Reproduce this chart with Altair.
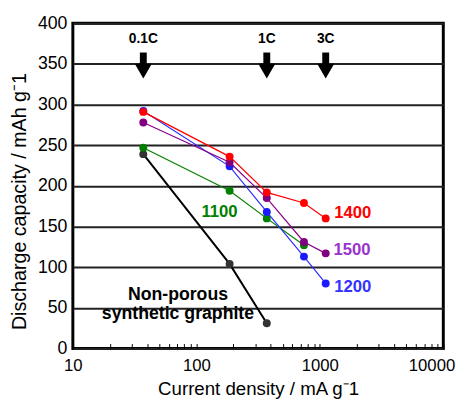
import altair as alt
import pandas as pd

# ---- data ----
rates = [37.2, 186, 372, 744, 1116]          # current density, mA g-1
cap_1400 = [291, 236, 192, 179, 160]
cap_1500 = [278, 229, 185, 131, 117]
cap_1200 = [292, 224, 168, 113, 80]
cap_1100 = [247, 194, 160, 127]
cap_graphite = [239, 104, 31]

series_names = ["graphite", "1100", "1200", "1500", "1400"]
series_caps = [cap_graphite, cap_1100, cap_1200, cap_1500, cap_1400]
line_colors = ["#000000", "#008000", "#2b2bff", "#8b008b", "#ff0000"]
point_colors = ["#333333", "#008000", "#1a1aff", "#800080", "#ff0000"]
line_widths = [2.0, 1.2, 1.2, 1.2, 1.2]

label_texts = ["1400", "1500", "1200", "1100"]
label_x = [1306, 1290, 1306, 110]
label_y = [167, 121, 75, 168]
label_colors = ["#ff0000", "#9933cc", "#3333ff", "#008000"]

graphite_lines = ["Non-porous", "synthetic graphite"]
graphite_x = [71, 71]
graphite_y = [66, 42]

arrow_rates = [37.2, 372, 1116]
arrow_labels = ["0.1C", "1C", "3C"]

x_tick_values = [10, 20, 30, 40, 50, 60, 70, 80, 90,
                 100, 200, 300, 400, 500, 600, 700, 800, 900,
                 1000, 2000, 3000, 4000, 5000, 6000, 7000, 8000, 9000, 10000]
y_tick_values = [0, 50, 100, 150, 200, 250, 300, 350, 400]

FONT = "Liberation Sans"

x_scale = alt.Scale(type="log", domain=[10, 10000])
y_scale = alt.Scale(domain=[0, 400], nice=False, zero=False)

x_axis = alt.Axis(
    values=x_tick_values, format="d",
    labelExpr="datum.value == 10 || datum.value == 100 || datum.value == 1000 || datum.value == 10000 ? datum.label : ''",
    labelOffset={"condition": {"test": "datum.value == 10000", "value": -12}, "value": 0},
    tickSize=5, offset=-5, tickColor="black", tickWidth=1,
    domain=False, grid=False, labelOverlap=False, labelFlush=False,
    labelPadding=9, labelFontSize=17, labelColor="black",
    title="Current density / mA g⁻1", titleFontSize=19, titleFontWeight="normal",
    titleColor="black", titlePadding=7,
)
y_axis = alt.Axis(
    values=y_tick_values, ticks=False, domain=False, grid=True,
    gridColor="#222222", gridWidth=2,
    labelFontSize=18, labelPadding=6, labelColor="black",
    title="Discharge capacity / mAh g⁻1", titleFontSize=20, titleFontWeight="normal",
    titleColor="black", titleX=-48, titleY=181, titleBaseline="alphabetic",
    titleAlign="center",
)

layers = []

# axes carrier (invisible)
base_df = pd.DataFrame({"rate": [10, 10000], "cap": [0, 400]})
layers.append(
    alt.Chart(base_df).mark_point(opacity=0).encode(
        x=alt.X("rate:Q", scale=x_scale, axis=x_axis),
        y=alt.Y("cap:Q", scale=y_scale, axis=y_axis),
    )
)

for name, caps, lc, pc, lw in zip(series_names, series_caps, line_colors, point_colors, line_widths):
    df = pd.DataFrame({"rate": rates[:len(caps)], "cap": caps, "i": list(range(len(caps)))})
    base = alt.Chart(df).encode(x=alt.X("rate:Q", scale=x_scale), y=alt.Y("cap:Q", scale=y_scale))
    layers.append(base.mark_line(color=lc, strokeWidth=lw).encode(order="i:Q"))
    layers.append(base.mark_circle(color=pc, size=65, opacity=1))

# arrows for C-rates
arrow_df = pd.DataFrame({"rate": arrow_rates, "label": arrow_labels})
abase = alt.Chart(arrow_df).encode(x=alt.X("rate:Q", scale=x_scale))
layers.append(abase.mark_rule(color="black", strokeWidth=7).encode(y=alt.datum(364), y2=alt.datum(348)))
layers.append(abase.mark_point(shape="triangle-down", filled=True, size=300, opacity=1, color="black")
              .encode(y=alt.datum(341)))
layers.append(abase.mark_text(font=FONT, fontWeight="bold", fontSize=14, baseline="middle", color="black")
              .encode(y=alt.datum(380), text="label:N"))

# series labels
for t, lx, ly, c in zip(label_texts, label_x, label_y, label_colors):
    ldf = pd.DataFrame({"rate": [lx], "cap": [ly], "t": [t]})
    layers.append(
        alt.Chart(ldf).mark_text(font=FONT, fontWeight="bold", fontSize=17, align="left",
                                 baseline="middle", color=c)
        .encode(x=alt.X("rate:Q", scale=x_scale), y=alt.Y("cap:Q", scale=y_scale), text="t:N")
    )

gdf = pd.DataFrame({"rate": graphite_x, "cap": graphite_y, "t": graphite_lines})
layers.append(
    alt.Chart(gdf).mark_text(font=FONT, fontWeight="bold", fontSize=18, align="center",
                             baseline="middle", color="black")
    .encode(x=alt.X("rate:Q", scale=x_scale), y=alt.Y("cap:Q", scale=y_scale), text="t:N")
)

chart = alt.layer(*layers).properties(
    width=377, height=331,
    autosize=alt.AutoSizeParams(type="none"),
    padding={"left": 66, "top": 12, "right": 17, "bottom": 55},
    background="white",
).configure(font=FONT).configure_view(stroke="black", strokeWidth=3)

chart.save("out.html", embed_options={"renderer": "svg", "actions": False})
